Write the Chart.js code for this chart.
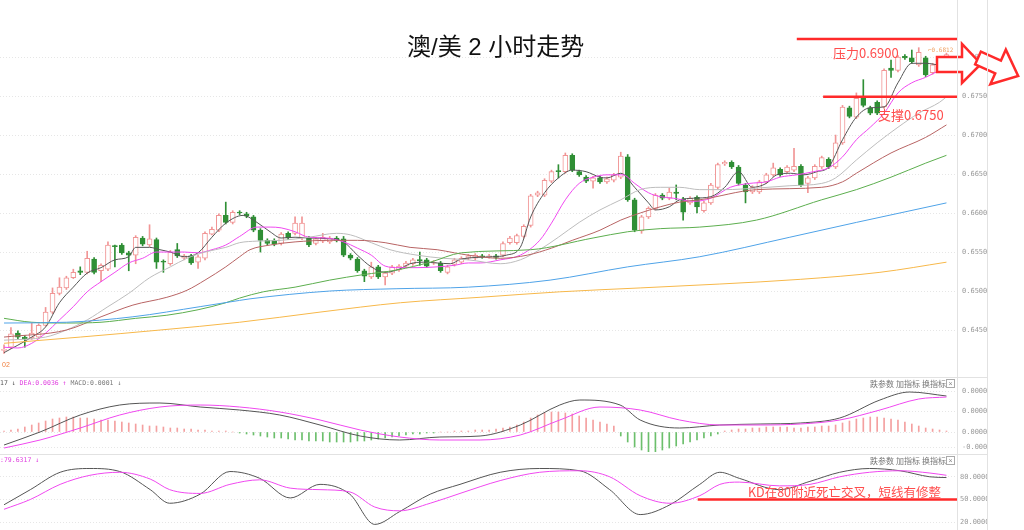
<!DOCTYPE html>
<html><head><meta charset="utf-8">
<script src="https://cdn.jsdelivr.net/npm/chart.js@4.4.1/dist/chart.umd.min.js"></script>
<style>
html,body{margin:0;padding:0;background:#fff;}
#wrap{position:relative;width:1024px;height:530px;overflow:hidden;font-family:"Liberation Sans","Noto Sans CJK SC",sans-serif;}
.c{position:absolute;left:0;}
canvas{display:block;}
.t{position:absolute;white-space:nowrap;line-height:1;}
.ln{position:absolute;background:#e2e2e2;}
.btn{position:absolute;font-size:8px;color:#777;font-family:"Noto Sans CJK SC",sans-serif;line-height:1;white-space:nowrap;}
.box{position:absolute;width:7px;height:7px;border:1px solid #aaa;font-size:7px;line-height:7px;text-align:center;color:#888;}
</style></head><body>
<div id="wrap">
  <div class="c" style="top:0"><canvas id="main" width="1024" height="380"></canvas></div>
  <div class="c" style="top:378px"><canvas id="macd" width="1024" height="76"></canvas></div>
  <div class="c" style="top:454px"><canvas id="kd" width="1024" height="76"></canvas></div>

  <div class="ln" style="left:957px;top:0;width:1px;height:530px"></div>
  <div class="ln" style="left:987px;top:0;width:1px;height:530px"></div>
  <div class="ln" style="left:0;top:377px;width:988px;height:1px"></div>
  <div class="ln" style="left:0;top:454px;width:988px;height:1px"></div>

  <div class="t" style="left:407px;top:35px;font-size:24px;color:#111;font-family:'Liberation Sans','Noto Sans CJK SC',sans-serif;">澳/美 2 小时走势</div>
  <div class="t" style="left:833px;top:46px;font-size:13px;color:#ff4d4d;font-family:'Noto Sans CJK SC',sans-serif;">压力0.6900</div>
  <div class="t" style="left:878px;top:108px;font-size:13px;color:#ff4d4d;font-family:'Noto Sans CJK SC',sans-serif;">支撑0.6750</div>
  <div class="t" style="left:748px;top:486px;font-size:12.5px;color:#ff4d4d;font-family:'Noto Sans CJK SC',sans-serif;">KD在80附近死亡交叉，短线有修整</div>
  <div class="t" style="left:2px;top:361px;font-size:7px;color:#f08040;">02</div>
  <div class="t" style="left:928px;top:47px;font-size:6px;color:#f0a060;font-family:'DejaVu Sans Mono',monospace;">⌐0.6812</div>

  <div class="t" style="left:0;top:380px;font-size:6.5px;font-family:'DejaVu Sans Mono',monospace;"><span style="color:#555">17 ↓</span> <span style="color:#e040e0">DEA:0.0036 ↑</span> <span style="color:#777">MACD:0.0001 ↓</span></div>
  <div class="t" style="left:0;top:457px;font-size:6.5px;font-family:'DejaVu Sans Mono',monospace;color:#e040e0;">:79.6317 ↓</div>

  <div class="btn" style="left:870px;top:380px">跌参数</div>
  <div class="btn" style="left:896px;top:380px">加指标</div>
  <div class="btn" style="left:922px;top:380px">换指标</div>
  <div class="box" style="left:946px;top:379px">×</div>
  <div class="btn" style="left:870px;top:457px">跌参数</div>
  <div class="btn" style="left:896px;top:457px">加指标</div>
  <div class="btn" style="left:922px;top:457px">换指标</div>
  <div class="box" style="left:946px;top:456px">×</div>
</div>
<script>
// ---- candle data (2h AUD/USD) ----
const opens  = [0.6424,0.6428,0.6446,0.6441,0.6440,0.6441,0.6456,0.6473,0.6497,0.6504,0.6517,0.6526,0.6524,0.6541,0.6526,0.6528,0.6558,0.6559,0.6549,0.6546,0.6568,0.6559,0.6566,0.6538,0.6535,0.6553,0.6542,0.6545,0.6537,0.6542,0.6573,0.6578,0.6597,0.6588,0.6601,0.6599,0.6595,0.6578,0.6565,0.6565,0.6561,0.6574,0.6574,0.6568,0.6568,0.6561,0.6564,0.6563,0.6568,0.6567,0.6546,0.6541,0.6526,0.6518,0.6531,0.6518,0.6523,0.6527,0.6532,0.6535,0.6540,0.6540,0.6536,0.6536,0.6524,0.6534,0.6537,0.6542,0.6542,0.6545,0.6544,0.6545,0.6546,0.6562,0.6562,0.6570,0.6584,0.6623,0.6623,0.6641,0.6654,0.6653,0.6674,0.6653,0.6646,0.6641,0.6645,0.6640,0.6642,0.6646,0.6672,0.6617,0.6577,0.6595,0.6606,0.6623,0.6619,0.6627,0.6618,0.6613,0.6620,0.6603,0.6613,0.6633,0.6663,0.6665,0.6659,0.6636,0.6627,0.6627,0.6640,0.6649,0.6656,0.6653,0.6655,0.6660,0.6638,0.6645,0.6659,0.6669,0.6659,0.6690,0.6735,0.6723,0.6747,0.6735,0.6742,0.6736,0.6786,0.6783,0.6801,0.6799,0.6790,0.6799,0.6780,0.6790,0.6794];
const highs  = [0.6431,0.6453,0.6449,0.6443,0.6459,0.6458,0.6479,0.6504,0.6517,0.6519,0.6528,0.6531,0.6551,0.6543,0.6535,0.6563,0.6559,0.6561,0.6551,0.6571,0.6570,0.6585,0.6568,0.6540,0.6552,0.6561,0.6547,0.6547,0.6546,0.6576,0.6582,0.6599,0.6614,0.6603,0.6603,0.6601,0.6597,0.6580,0.6567,0.6567,0.6575,0.6576,0.6595,0.6595,0.6570,0.6569,0.6574,0.6570,0.6570,0.6570,0.6548,0.6543,0.6528,0.6537,0.6533,0.6525,0.6533,0.6534,0.6538,0.6542,0.6550,0.6542,0.6539,0.6538,0.6533,0.6542,0.6544,0.6547,0.6548,0.6547,0.6547,0.6547,0.6563,0.6570,0.6573,0.6585,0.6624,0.6628,0.6644,0.6655,0.6662,0.6677,0.6676,0.6655,0.6648,0.6647,0.6647,0.6646,0.6651,0.6678,0.6675,0.6619,0.6597,0.6608,0.6625,0.6625,0.6632,0.6636,0.6620,0.6621,0.6622,0.6615,0.6638,0.6664,0.6667,0.6667,0.6661,0.6638,0.6635,0.6642,0.6651,0.6664,0.6658,0.6661,0.6683,0.6662,0.6647,0.6662,0.6673,0.6671,0.6700,0.6738,0.6737,0.6754,0.6771,0.6737,0.6744,0.6785,0.6796,0.6802,0.6803,0.6809,0.6812,0.6801,0.6792,0.6801,0.6805];
const lows   = [0.6420,0.6426,0.6439,0.6428,0.6438,0.6439,0.6455,0.6471,0.6495,0.6502,0.6516,0.6521,0.6522,0.6522,0.6512,0.6526,0.6531,0.6547,0.6526,0.6535,0.6558,0.6557,0.6529,0.6524,0.6533,0.6543,0.6540,0.6534,0.6529,0.6540,0.6572,0.6576,0.6586,0.6586,0.6598,0.6594,0.6576,0.6550,0.6559,0.6558,0.6559,0.6566,0.6572,0.6566,0.6557,0.6559,0.6562,0.6561,0.6563,0.6544,0.6540,0.6524,0.6512,0.6516,0.6516,0.6508,0.6521,0.6525,0.6530,0.6533,0.6533,0.6530,0.6534,0.6524,0.6522,0.6532,0.6535,0.6540,0.6540,0.6542,0.6542,0.6541,0.6544,0.6560,0.6560,0.6568,0.6582,0.6621,0.6621,0.6639,0.6645,0.6651,0.6653,0.6647,0.6639,0.6632,0.6638,0.6638,0.6640,0.6644,0.6615,0.6576,0.6574,0.6593,0.6604,0.6617,0.6617,0.6617,0.6591,0.6611,0.6600,0.6601,0.6611,0.6631,0.6661,0.6657,0.6636,0.6613,0.6625,0.6625,0.6638,0.6647,0.6647,0.6651,0.6653,0.6634,0.6626,0.6643,0.6657,0.6657,0.6657,0.6688,0.6722,0.6721,0.6736,0.6726,0.6726,0.6734,0.6774,0.6781,0.6797,0.6792,0.6788,0.6775,0.6778,0.6788,0.6792];
const closes = [0.6425,0.6445,0.6441,0.6439,0.6446,0.6456,0.6473,0.6497,0.6505,0.6517,0.6524,0.6524,0.6542,0.6524,0.6533,0.6559,0.6557,0.6549,0.6546,0.6569,0.6560,0.6567,0.6537,0.6537,0.6550,0.6545,0.6545,0.6536,0.6544,0.6574,0.6579,0.6597,0.6588,0.6601,0.6600,0.6596,0.6578,0.6565,0.6561,0.6560,0.6573,0.6568,0.6587,0.6587,0.6559,0.6567,0.6569,0.6568,0.6565,0.6546,0.6542,0.6526,0.6519,0.6531,0.6518,0.6523,0.6531,0.6532,0.6536,0.6540,0.6539,0.6532,0.6537,0.6526,0.6531,0.6540,0.6542,0.6545,0.6546,0.6544,0.6545,0.6543,0.6561,0.6568,0.6571,0.6583,0.6622,0.6626,0.6642,0.6653,0.6653,0.6674,0.6655,0.6649,0.6641,0.6645,0.6640,0.6644,0.6649,0.6673,0.6617,0.6578,0.6595,0.6606,0.6623,0.6619,0.6627,0.6625,0.6601,0.6619,0.6608,0.6613,0.6636,0.6662,0.6665,0.6659,0.6638,0.6627,0.6633,0.6640,0.6649,0.6658,0.6649,0.6659,0.6660,0.6636,0.6645,0.6660,0.6671,0.6659,0.6690,0.6736,0.6724,0.6747,0.6738,0.6728,0.6728,0.6783,0.6783,0.6800,0.6799,0.6794,0.6806,0.6777,0.6790,0.6799,0.6803];

// ---- moving averages, read at sample candle positions [index, price] ----
const ma5 = [[0,0.6421],[4,0.6441],[6,0.6454],[8,0.6485],[10,0.6505],[12,0.6523],[14,0.6530],[16,0.6540],[18,0.6544],[19,0.6556],[21,0.6556],[22.5,0.6553],[24,0.6550],[26,0.6544],[28,0.6549],[30,0.6569],[32,0.6587],[34.5,0.6597],[36.5,0.6588],[38.4,0.6576],[40,0.6568],[42,0.6569],[44,0.6568],[47,0.6567],[49,0.6563],[51,0.6546],[53,0.6531],[55,0.6524],[57,0.6528],[58.6,0.6535],[60.5,0.6537],[62.5,0.6536],[64.4,0.6535],[66,0.6541],[70.5,0.6544],[72.5,0.6546],[74.5,0.6556],[76,0.6595],[78,0.6626],[80,0.6645],[82,0.6655],[84,0.6653],[86,0.6646],[87,0.6645],[89,0.6651],[91,0.6633],[93,0.6613],[94,0.6604],[96,0.6608],[97.5,0.6617],[99.5,0.6619],[102,0.6621],[104,0.6633],[106,0.6653],[108,0.6633],[110,0.6638],[111.5,0.6649],[113.5,0.6651],[115.4,0.6649],[117.3,0.6653],[119,0.6659],[121,0.6694],[123,0.6723],[125,0.6735],[127,0.6736],[129,0.6767],[131,0.6792],[133,0.6792],[135,0.6790],[136,0.6791]];
const ma10 = [[0,0.6428],[2,0.6427],[4,0.6433],[6,0.6446],[8,0.6463],[10,0.6480],[12,0.6499],[14,0.6512],[16,0.6524],[18,0.6536],[20,0.6542],[22,0.6550],[24.5,0.6550],[26,0.6550],[28,0.6549],[30,0.6553],[32,0.6559],[34,0.6570],[36.5,0.6582],[38.4,0.6582],[40,0.6581],[42,0.6576],[44,0.6569],[46.5,0.6568],[49,0.6563],[51,0.6555],[53,0.6546],[55,0.6532],[57,0.6530],[59.6,0.6530],[62.5,0.6531],[65,0.6533],[67,0.6536],[68.7,0.6536],[71.6,0.6540],[74.5,0.6546],[77.3,0.6565],[79,0.6587],[81,0.6617],[83,0.6638],[85,0.6646],[87,0.6649],[89.3,0.6649],[91,0.6638],[93,0.6626],[94.7,0.6621],[96.6,0.6619],[99.5,0.6615],[102,0.6619],[104.8,0.6633],[107.6,0.6638],[110,0.6640],[112,0.6646],[114.4,0.6649],[116.8,0.6653],[119,0.6658],[121,0.6672],[123,0.6694],[125,0.6710],[127,0.6728],[129,0.6754],[131,0.6767],[133,0.6774],[135,0.6783],[136,0.6787]];
const ma20 = [[0,0.6437],[6,0.6441],[9,0.6450],[12,0.6463],[15,0.6480],[18,0.6497],[21,0.6517],[24,0.6531],[26.4,0.6542],[29,0.6550],[32,0.6556],[34,0.6562],[36.5,0.6564],[40,0.6565],[44,0.6569],[48,0.6574],[50,0.6572],[53,0.6562],[55.7,0.6553],[59.6,0.6546],[63.4,0.6542],[67,0.6540],[71.6,0.6535],[74.5,0.6540],[77.3,0.6553],[80,0.6569],[83,0.6588],[86,0.6604],[89,0.6617],[91.8,0.6630],[94.7,0.6633],[97.5,0.6633],[100.4,0.6630],[104,0.6630],[108.6,0.6632],[113.4,0.6635],[118,0.6638],[120,0.6645],[123,0.6668],[126,0.6690],[129,0.6710],[132,0.6728],[135,0.6742],[136,0.6749]];
const ma30 = [[0,0.6441],[9,0.6450],[14,0.6467],[18.6,0.6482],[23.5,0.6492],[26.4,0.6501],[29,0.6514],[32,0.6531],[34,0.6544],[35.5,0.6553],[38.4,0.6559],[42,0.6563],[47,0.6565],[51,0.6565],[55,0.6562],[58.6,0.6556],[62.5,0.6553],[65,0.6549],[67,0.6546],[71.6,0.6542],[75.5,0.6546],[79,0.6555],[82,0.6565],[86,0.6578],[89,0.6591],[91.8,0.6600],[94.7,0.6608],[97.5,0.6614],[100.4,0.6617],[108.6,0.6630],[118,0.6633],[121,0.6640],[123,0.6651],[128,0.6677],[133,0.6697],[136,0.6713]];
const ma60 = [[0,0.6465],[4,0.6460],[9,0.6459],[14,0.6460],[19,0.6465],[23.5,0.6469],[28,0.6476],[32,0.6485],[34,0.6491],[37.4,0.6499],[42,0.6505],[47,0.6514],[51.8,0.6521],[56.7,0.6527],[61.5,0.6537],[66,0.6549],[76,0.6553],[85,0.6568],[90,0.6576],[94.7,0.6580],[100.4,0.6582],[108.6,0.6591],[118,0.6617],[123,0.6630],[128,0.6646],[133,0.6664],[136,0.6674]];
const ma120 = [[0,0.6459],[9,0.6460],[18.6,0.6467],[28.3,0.6480],[34,0.6488],[35.5,0.6490],[47,0.6500],[56.7,0.6503],[67,0.6505],[78.8,0.6514],[90,0.6531],[100.4,0.6544],[113.4,0.6569],[123,0.6588],[136,0.6613]];
const ma250 = [[0,0.6433],[11,0.6441],[22.5,0.6450],[34,0.6460],[45.6,0.6473],[57.2,0.6485],[68.7,0.6492],[80.2,0.6499],[91.8,0.6504],[103.3,0.6509],[114.9,0.6515],[126.4,0.6524],[136,0.6537]];
const priceTicks = [0.6450,0.6500,0.6550,0.6600,0.6650,0.6700,0.6750,0.6800];
const resistanceLevel = 0.6823, supportLevel = 0.6749;

// ---- MACD panel ----
const dif = [[0,-0.0013],[5.2,0.0000],[11,0.0017],[16.7,0.0027],[22.5,0.0029],[28.3,0.0025],[34,0.0022],[39.8,0.0017],[45.6,0.0007],[51.4,-0.0004],[57.1,-0.0008],[62.9,-0.0005],[68.7,-0.0004],[74.5,0.0007],[80.2,0.0027],[83.1,0.0032],[88.9,0.0027],[91.8,0.0012],[97.5,0.0004],[103.3,0.0007],[109.1,0.0008],[114.9,0.0009],[120.6,0.0014],[126.4,0.0032],[130.7,0.0040],[136,0.0036]];
const dea = [[0,-0.0016],[5.2,-0.0008],[11,0.0004],[16.7,0.0017],[22.5,0.0025],[28.3,0.0027],[34,0.0025],[39.8,0.0020],[45.6,0.0012],[51.4,0.0002],[57.1,-0.0005],[62.9,-0.0008],[68.7,-0.0008],[74.5,-0.0003],[80.2,0.0012],[86,0.0025],[91.8,0.0022],[97.5,0.0012],[103.3,0.0007],[109.1,0.0007],[114.9,0.0008],[120.6,0.0012],[126.4,0.0022],[132,0.0033],[136,0.0035]];
const macdHist = [1,2,3,5,7,9,11,13,14,15,15,14,14,13,12,12,11,10,9,8,7,6,6,5,4,4,3,3,2,2,1,1,1,0,-1,-2,-3,-4,-5,-6,-6,-7,-8,-8,-9,-9,-9,-10,-10,-10,-10,-9,-9,-8,-7,-6,-5,-4,-3,-2,-2,-1,-1,0,0,1,1,1,2,2,2,3,4,5,7,10,14,17,19,20,20,19,18,16,14,12,10,8,6,-4,-10,-15,-18,-20,-20,-18,-16,-14,-12,-10,-8,-6,-4,-2,1,2,3,3,4,4,5,5,5,5,4,4,5,5,6,6,7,9,11,13,14,15,15,14,13,12,10,8,6,4,3,2,1];
const macdTickVals = [0.0041,0.0021,0.0000,-0.0015];
const macdTickLabels = ['0.0000','0.0000','0.0000','-0.0000'];

// ---- KD panel ----
const kLine = [[0,43],[3.8,63],[8.1,86],[12.4,91],[16.7,87],[21.1,63],[23.9,45],[28.3,57],[32.6,87],[36.9,78],[41.3,52],[45.6,70],[49.9,57],[53.5,17],[57.1,34],[61.5,57],[65.8,70],[71.6,86],[77.3,91],[83.1,88],[87.4,63],[91.8,30],[96.1,43],[100.4,70],[103.3,86],[106.1,78],[111.9,63],[116.3,74],[120.6,86],[124.9,91],[129.3,88],[133.6,80],[136,79]];
const dLine = [[0,37],[3.8,50],[8.1,70],[12.4,82],[16.7,86],[21.1,77],[23.9,63],[28.3,58],[32.6,70],[36.9,76],[41.3,65],[45.6,63],[49.9,60],[53.5,40],[57.1,35],[61.5,45],[65.8,58],[71.6,75],[77.3,86],[83.1,88],[87.4,80],[91.8,55],[96.1,45],[100.4,55],[103.3,70],[106.1,73],[111.9,68],[116.3,70],[120.6,80],[124.9,86],[129.3,88],[133.6,85],[136,82]];
const kdTickVals = [80,50,20];
const kdLevel = 50;

// ---- build ----
const N = opens.length;
const idx = opens.map((_, i) => i);
const isUp = idx.map(i => closes[i] >= opens[i]);
const UPC = '#f19595', DNC = '#2f8f35';
const XMIN = -0.58, XMAX = 137.52;
const common = {responsive:false, animation:false, events:[], plugins:{legend:{display:false}, tooltip:{enabled:false}}};
const toXY = arr => arr.map(p => ({x:p[0], y:p[1]}));
const lineDs = (arr, color, w) => ({type:'line', data:toXY(arr), borderColor:color, borderWidth:w||1, pointRadius:0, fill:false, cubicInterpolationMode:'monotone', order:0});
const xScale = {type:'linear', min:XMIN, max:XMAX, display:false, offset:false, grid:{offset:false}};
const fitRight = s => { s.width = 30; s.paddingTop = 0; s.paddingBottom = 0; };

const annot = {
  id:'annot',
  afterDatasetsDraw(chart){
    const {ctx, scales:{x, y}, chartArea:ca} = chart;
    ctx.save();
    ctx.strokeStyle = '#ff2a2a'; ctx.lineWidth = 2.5;
    let yy = y.getPixelForValue(resistanceLevel);
    ctx.beginPath(); ctx.moveTo(x.getPixelForValue(114.4), yy); ctx.lineTo(ca.right, yy); ctx.stroke();
    yy = y.getPixelForValue(supportLevel);
    ctx.beginPath(); ctx.moveTo(x.getPixelForValue(118.2), yy); ctx.lineTo(ca.right, yy); ctx.stroke();
    ctx.lineWidth = 2.5; ctx.fillStyle = '#fff'; ctx.lineJoin = 'miter';
    const arrow = (pts) => { ctx.beginPath(); pts.forEach((p,k)=> k?ctx.lineTo(p[0],p[1]):ctx.moveTo(p[0],p[1])); ctx.closePath(); ctx.fill(); ctx.stroke(); };
    arrow([[937,57],[962,57],[962,44],[981,64],[962,83],[962,72],[937,72]]);
    ctx.save(); ctx.translate(978,58); ctx.rotate(0.42);
    arrow([[0,-7],[22,-7],[22,-19],[44,0],[22,19],[22,7],[0,7]]);
    ctx.restore();
    ctx.restore();
  }
};

new Chart(document.getElementById('main'), {
  data:{datasets:[
    lineDs(ma250,'#f7b84a'), lineDs(ma120,'#4fa3e8'), lineDs(ma60,'#5cae4e'), lineDs(ma30,'#b86464'),
    lineDs(ma20,'#bdbdbd'), lineDs(ma10,'#f048f0'), lineDs(ma5,'#555555'),
    {type:'bar', data:idx.map(i=>({x:i, y:[lows[i], highs[i]]})), backgroundColor:idx.map(i=>isUp[i]?UPC:DNC), barThickness:1, grouped:false, order:3},
    {type:'bar', data:idx.map(i=>({x:i, y:[opens[i], closes[i]]})), backgroundColor:idx.map(i=>isUp[i]?'#ffffff':DNC), borderColor:idx.map(i=>isUp[i]?UPC:DNC), borderWidth:1, borderSkipped:false, barThickness:5, minBarLength:1, grouped:false, order:2}
  ]},
  options:Object.assign({}, common, {
    layout:{padding:{left:0, right:37, top:15, bottom:3}},
    scales:{
      x:xScale,
      y:{position:'right', min:0.63898, max:0.68539,
         afterFit:fitRight,
         afterBuildTicks(s){ s.ticks = priceTicks.map(v=>({value:v})); },
         ticks:{callback:v=>v.toFixed(4), color:'#9a9a9a', font:{size:7, family:'DejaVu Sans Mono'}, padding:5},
         grid:{color:'#e6e6e6', drawTicks:false}, border:{display:false, dash:[1,2]}}
    }
  }),
  plugins:[annot]
});

new Chart(document.getElementById('macd'), {
  data:{datasets:[
    {type:'bar', data:idx.map(i=>({x:i, y:macdHist[i]*0.0001})), backgroundColor:idx.map(i=>macdHist[i]>=0?'#f4a0a0':'#6cbf6c'), barThickness:1, grouped:false, order:2},
    lineDs(dea,'#f048f0'), lineDs(dif,'#555555')
  ]},
  options:Object.assign({}, common, {
    layout:{padding:{left:0, right:37, top:10, bottom:2}},
    scales:{
      x:xScale,
      y:{position:'right', min:-0.0020, max:0.0044,
         afterFit:fitRight,
         afterBuildTicks(s){ s.ticks = macdTickVals.map(v=>({value:v})); },
         ticks:{callback:(v,k)=>macdTickLabels[k], color:'#9a9a9a', font:{size:7, family:'DejaVu Sans Mono'}, padding:5},
         grid:{color:'#e6e6e6', drawTicks:false}, border:{display:false, dash:[1,2]}}
    }
  })
});

const kdAnnot = {
  id:'kdAnnot',
  afterDatasetsDraw(chart){
    const {ctx, scales:{x, y}, chartArea:ca} = chart;
    const yy = y.getPixelForValue(kdLevel);
    ctx.save(); ctx.strokeStyle = '#ff2a2a'; ctx.lineWidth = 2.5;
    ctx.beginPath(); ctx.moveTo(x.getPixelForValue(100.1), yy); ctx.lineTo(ca.right, yy); ctx.stroke();
    ctx.restore();
  }
};

new Chart(document.getElementById('kd'), {
  data:{datasets:[ lineDs(dLine,'#f048f0'), lineDs(kLine,'#555555') ]},
  options:Object.assign({}, common, {
    layout:{padding:{left:0, right:37, top:12, bottom:0}},
    scales:{
      x:xScale,
      y:{position:'right', min:9.6, max:94.3,
         afterFit:fitRight,
         afterBuildTicks(s){ s.ticks = kdTickVals.map(v=>({value:v})); },
         ticks:{callback:v=>v.toFixed(4), color:'#9a9a9a', font:{size:7, family:'DejaVu Sans Mono'}, padding:3},
         grid:{color:'#e6e6e6', drawTicks:false}, border:{display:false, dash:[1,2]}}
    }
  }),
  plugins:[kdAnnot]
});
</script>
</body></html>
